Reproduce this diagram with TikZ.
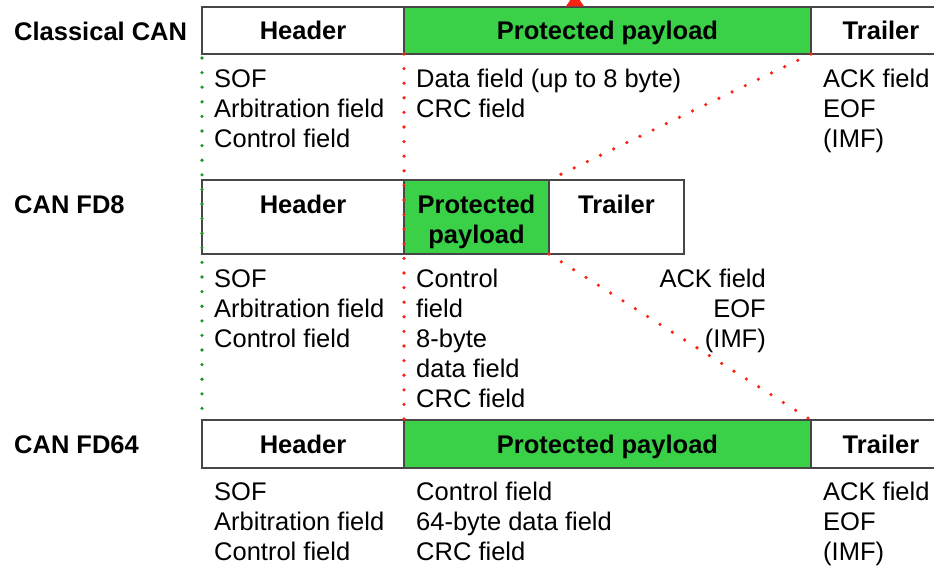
\documentclass[tikz,border=0pt]{standalone}
\usepackage{fontspec}
\setmainfont{Liberation Sans}
\definecolor{boxgray}{RGB}{70,70,70}
\definecolor{paygreen}{RGB}{58,208,72}
\definecolor{dotred}{RGB}{250,35,20}
\definecolor{dotgreen}{RGB}{30,150,40}
\newcommand\txtsize{\fontsize{25.5}{30}\selectfont}
\begin{document}
\begin{tikzpicture}[x=1pt,y=-1pt,
  box/.style={draw=boxgray, line width=1.4pt, inner sep=0pt, outer sep=0pt, anchor=north west, fill=white},
  pay/.style={box, fill=paygreen},
  t/.style={font=\txtsize, inner sep=0pt, anchor=base west, text=black},
  tr/.style={t, anchor=base east},
  tb/.style={t, font=\txtsize\bfseries},
  hb/.style={tb, anchor=base},
  dotline/.style={line width=3.6pt, line cap=round, dash pattern=on 0pt off 14.6pt},
  rdot/.style={dotline, draw=dotred},
  gdot/.style={dotline, draw=dotgreen},
]
\useasboundingbox (0,0) rectangle (934,565);
\clip (0,0) rectangle (934,565);

% row 1 boxes
\node[box, minimum width=202pt, minimum height=47pt] (h1) at (202,7) {};
\node[pay, minimum width=407pt, minimum height=47pt] (p1) at (404,7) {};
\node[box, minimum width=141pt, minimum height=47pt] (t1) at (811,7) {};
% red arrow tip at top
\fill[dotred] (566,6.3) -- (584,6.3) -- (579,-1) -- (571,-1) -- cycle;
% row 2 boxes
\node[box, minimum width=202pt, minimum height=74pt] (h2) at (202,180) {};
\node[pay, minimum width=145pt, minimum height=74pt] (p2) at (404,180) {};
\node[box, minimum width=135pt, minimum height=74pt] (t2) at (549,180) {};
% row 3 boxes
\node[box, minimum width=202pt, minimum height=48pt] (h3) at (202,420) {};
\node[pay, minimum width=407pt, minimum height=48pt] (p3) at (404,420) {};
\node[box, minimum width=141pt, minimum height=48pt] (t3) at (811,420) {};

% dotted connectors
\draw[gdot] ([yshift=-4pt]h1.south west) -- ([yshift=6pt]h3.north west);
\draw[rdot] (p1.south west) -- (p3.north west);
\draw[rdot] (p1.south east) -- (p2.north east);
\draw[rdot] (p2.south east) -- (p3.north east);

% row labels
\node[tb] (l1) at (14,40) {Classical CAN};
\node[tb] (l2) at (14,213) {CAN FD8};
\node[tb] (l3) at (14,453) {CAN FD64};

% box titles
\node[hb] (h1t) at (303,39.5) {Header};
\node[hb] (p1t) at (607.5,39.5) {Protected payload};
\node[hb] (t1t) at (881,39.5) {Trailer};
\node[hb] (h2t) at (303,213) {Header};
\node[hb] (p2ta) at (476.5,213) {Protected};
\node[hb] (p2tb) at (476.5,243) {payload};
\node[hb] (t2t) at (616.5,213) {Trailer};
\node[hb] (h3t) at (303,453) {Header};
\node[hb] (p3t) at (607.5,453) {Protected payload};
\node[hb] (t3t) at (881,453) {Trailer};

% row 1 field lists
\node[t] (a1) at (214,87) {SOF};
\node[t] (a2) at (214,117) {Arbitration field};
\node[t] (a3) at (214,147) {Control field};
\node[t] (b1) at (416,87) {Data field (up to 8 byte)};
\node[t] (b2) at (416,117) {CRC field};
\node[t] (c1) at (823,87) {ACK field};
\node[t] (c2) at (823,117) {EOF};
\node[t] (c3) at (823,147) {(IMF)};

% row 2 field lists
\node[t] (d1) at (214,287) {SOF};
\node[t] (d2) at (214,317) {Arbitration field};
\node[t] (d3) at (214,347) {Control field};
\node[t] (e1) at (416,287) {Control};
\node[t] (e2) at (416,317) {field};
\node[t] (e3) at (416,347) {8-byte};
\node[t] (e4) at (416,377) {data field};
\node[t] (e5) at (416,407) {CRC field};
\node[tr] (f1) at (766,287) {ACK field};
\node[tr] (f2) at (766,317) {EOF};
\node[tr] (f3) at (766,347) {(IMF)};

% row 3 field lists
\node[t] (g1) at (214,500) {SOF};
\node[t] (g2) at (214,530) {Arbitration field};
\node[t] (g3) at (214,560) {Control field};
\node[t] (k1) at (416,500) {Control field};
\node[t] (k2) at (416,530) {64-byte data field};
\node[t] (k3) at (416,560) {CRC field};
\node[t] (m1) at (823,500) {ACK field};
\node[t] (m2) at (823,530) {EOF};
\node[t] (m3) at (823,560) {(IMF)};
\end{tikzpicture}
\end{document}
